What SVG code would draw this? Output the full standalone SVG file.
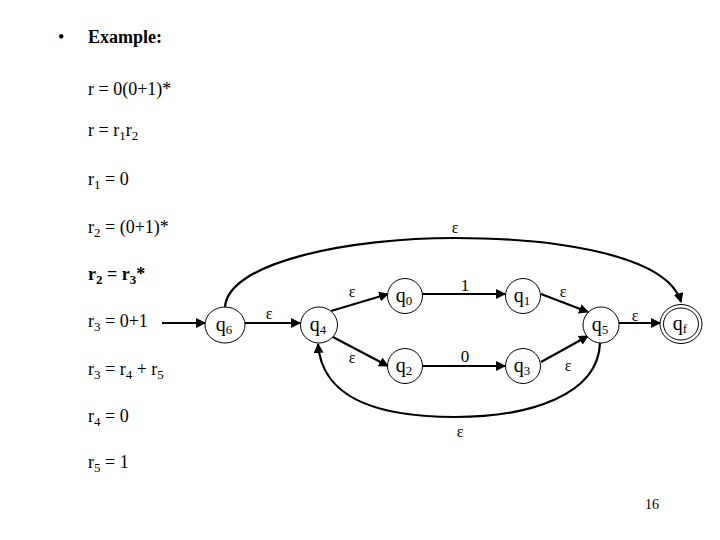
<svg xmlns="http://www.w3.org/2000/svg" width="720" height="540" viewBox="0 0 720 540">
<style>
text{font-family:"Liberation Serif","Times New Roman",serif;fill:#000}
.t{font-size:18px}
.b{font-weight:bold}
.lbl{font-size:20px;text-anchor:middle}
.eps{font-size:16px;text-anchor:middle}
.st{fill:#fff;stroke:#000;stroke-width:1}
.e{fill:none;stroke:#000;stroke-width:2.2;marker-end:url(#ah)}
</style>
<defs>
<marker id="ah" viewBox="0 0 10 10" refX="9" refY="5" markerWidth="4.5" markerHeight="4.5" orient="auto" markerUnits="strokeWidth">
<path d="M0,0 L10,5 L0,10 z" fill="#000"/>
</marker>
</defs>
<rect width="720" height="540" fill="#fff"/>
<g id="text-left">
<text x="58" y="43" class="t">•</text>
<text x="88" y="43" class="t b">Example:</text>
<text x="88" y="95" class="t">r = 0(0+1)*</text>
<text x="88" y="136" class="t">r = r<tspan dy="4" font-size="13">1</tspan><tspan dy="-4">r</tspan><tspan dy="4" font-size="13">2</tspan></text>
<text x="88" y="185" class="t">r<tspan dy="4" font-size="13">1</tspan><tspan dy="-4"> = 0</tspan></text>
<text x="88" y="233" class="t">r<tspan dy="4" font-size="13">2</tspan><tspan dy="-4"> = (0+1)*</tspan></text>
<text x="88" y="280" class="t b">r<tspan dy="4" font-size="13">2</tspan><tspan dy="-4"> = r</tspan><tspan dy="4" font-size="13">3</tspan><tspan dy="-4">*</tspan></text>
<text x="88" y="327" class="t">r<tspan dy="4" font-size="13">3</tspan><tspan dy="-4"> = 0+1</tspan></text>
<text x="88" y="375" class="t">r<tspan dy="4" font-size="13">3</tspan><tspan dy="-4"> = r</tspan><tspan dy="4" font-size="13">4</tspan><tspan dy="-4"> + r</tspan><tspan dy="4" font-size="13">5</tspan></text>
<text x="88" y="422" class="t">r<tspan dy="4" font-size="13">4</tspan><tspan dy="-4"> = 0</tspan></text>
<text x="88" y="468" class="t">r<tspan dy="4" font-size="13">5</tspan><tspan dy="-4"> = 1</tspan></text>
<text x="652" y="509" style="font-size:14px;text-anchor:middle">16</text>
</g>
<g id="connectors">
<line class="e" x1="162" y1="323" x2="205" y2="323"/>
<line class="e" x1="245" y1="323" x2="300" y2="323"/>
<line class="e" x1="331" y1="311" x2="388" y2="294"/>
<line class="e" x1="331" y1="336" x2="388" y2="366"/>
<line class="e" x1="422" y1="294" x2="505" y2="294"/>
<line class="e" x1="422" y1="366" x2="505" y2="366"/>
<line class="e" x1="541" y1="294" x2="588" y2="312"/>
<line class="e" x1="541" y1="362" x2="588" y2="336"/>
<line class="e" x1="619" y1="323" x2="660" y2="323"/>
<path class="e" d="M225,307 C228,262 350,238 455,238 C560,238 668,256 681,302"/>
<path class="e" d="M600,343 C598,395 530,417 455,417 C380,417 322,400 318,344"/>
<text x="269" y="319" class="eps">ε</text>
<text x="352" y="297" class="eps">ε</text>
<text x="352" y="363" class="eps">ε</text>
<text x="465" y="291" class="lbl" style="font-size:17px">1</text>
<text x="465" y="362" class="lbl" style="font-size:17px">0</text>
<text x="563" y="297" class="eps">ε</text>
<text x="568" y="371" class="eps">ε</text>
<text x="635" y="321" class="eps">ε</text>
<text x="455" y="233" class="eps">ε</text>
<text x="460" y="437" class="eps">ε</text>
</g>
<g id="q6"><ellipse class="st" cx="225" cy="325" rx="20" ry="18"/><text x="224" y="331" class="lbl">q<tspan dy="3" font-size="13">6</tspan></text></g>
<g id="q4"><ellipse class="st" cx="319" cy="325" rx="18.5" ry="18"/><text x="318" y="331" class="lbl">q<tspan dy="3" font-size="13">4</tspan></text></g>
<g id="q0"><ellipse class="st" cx="405" cy="296" rx="17.5" ry="17.5"/><text x="404" y="302" class="lbl">q<tspan dy="3" font-size="13">0</tspan></text></g>
<g id="q2"><ellipse class="st" cx="405" cy="366" rx="17.5" ry="17.5"/><text x="404" y="372" class="lbl">q<tspan dy="3" font-size="13">2</tspan></text></g>
<g id="q1"><ellipse class="st" cx="523" cy="296" rx="17.5" ry="17.5"/><text x="522" y="302" class="lbl">q<tspan dy="3" font-size="13">1</tspan></text></g>
<g id="q3"><ellipse class="st" cx="523" cy="366" rx="17.5" ry="17.5"/><text x="522" y="372" class="lbl">q<tspan dy="3" font-size="13">3</tspan></text></g>
<g id="q5"><ellipse class="st" cx="601" cy="325" rx="18" ry="18"/><text x="600" y="331" class="lbl">q<tspan dy="3" font-size="13">5</tspan></text></g>
<g id="qf"><ellipse class="st" cx="681" cy="324" rx="21" ry="19.5"/><ellipse class="st" cx="681" cy="324" rx="17.5" ry="16"/><text x="680" y="330" class="lbl">q<tspan dy="3" font-size="13">f</tspan></text></g>
</svg>
